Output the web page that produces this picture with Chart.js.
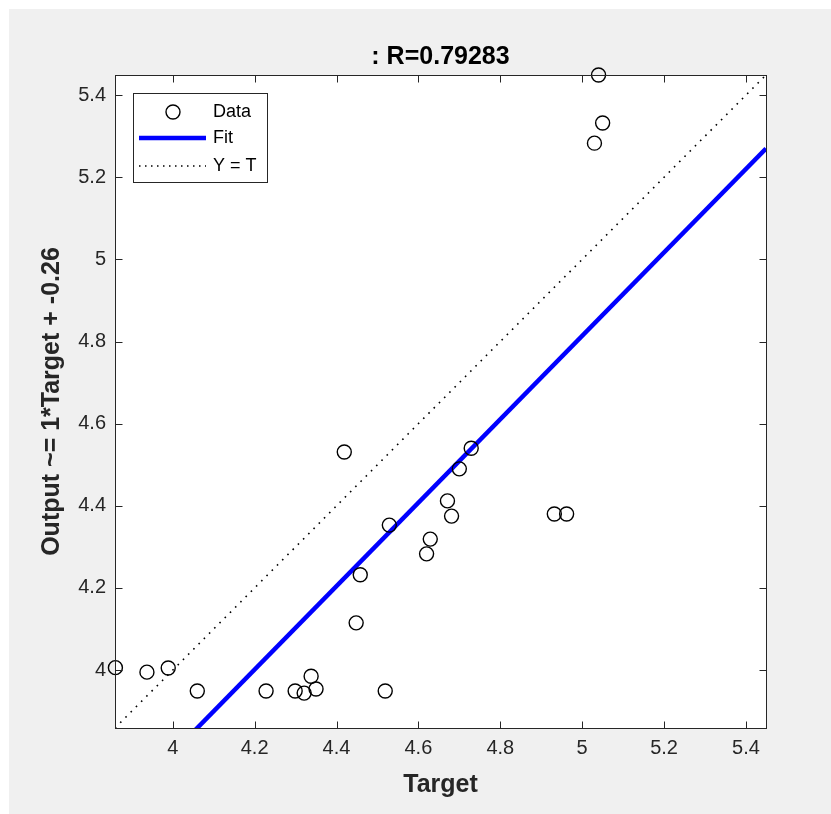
<!DOCTYPE html>
<html>
<head>
<meta charset="utf-8">
<script src="https://cdn.jsdelivr.net/npm/chart.js@4.4.1/dist/chart.umd.min.js"></script>
<style>
html,body{margin:0;padding:0;background:#fff;}
canvas{display:block;}
</style>
</head>
<body>
<canvas id="c" width="831" height="814"></canvas>
<script>
// ---- data ----
const targetValues = [3.86, 3.937, 3.989, 4.06, 4.228, 4.299, 4.321, 4.338, 4.35, 4.519,
                      4.448, 4.458, 4.419, 4.529, 4.62, 4.629, 4.671, 4.681, 4.70, 4.729,
                      4.932, 4.962, 5.03, 5.05, 5.04];
const outputValues = [4.006, 3.995, 4.005, 3.949, 3.949, 3.949, 3.944, 3.985, 3.954, 3.949,
                      4.115, 4.232, 4.531, 4.353, 4.283, 4.319, 4.412, 4.375, 4.49, 4.54,
                      4.38, 4.38, 5.283, 5.332, 5.449];
const fitX = [3.859, 5.449];
const fitY = [3.655, 5.270];
const identityX = [3.859, 5.449];
const identityY = [3.859, 5.449];
const axisMin = 3.859;
const axisMax = 5.449;
const xTickValues = [4, 4.2, 4.4, 4.6, 4.8, 5, 5.2, 5.4];
const xTickLabels = ['4', '4.2', '4.4', '4.6', '4.8', '5', '5.2', '5.4'];
const yTickValues = [4, 4.2, 4.4, 4.6, 4.8, 5, 5.2, 5.4];
const yTickLabels = ['4', '4.2', '4.4', '4.6', '4.8', '5', '5.2', '5.4'];
const titleText = ': R=0.79283';
const xAxisTitle = 'Target';
const yAxisTitle = 'Output ~= 1*Target + -0.26';
const legendLabels = ['Data', 'Fit', 'Y = T'];

const FONT = "'Liberation Sans', Arial, sans-serif";
const AX = '#262626';

const bgPlugin = {
  id: 'bg',
  beforeDraw(chart) {
    const {ctx, chartArea: a} = chart;
    ctx.save();
    ctx.fillStyle = '#ffffff';
    ctx.fillRect(0, 0, chart.width, chart.height);
    ctx.fillStyle = '#f0f0f0';
    ctx.fillRect(9, 9, chart.width - 9, chart.height - 9);
    ctx.fillStyle = '#ffffff';
    ctx.fillRect(a.left, a.top, a.right - a.left, a.bottom - a.top);
    ctx.restore();
  }
};

const framePlugin = {
  id: 'frame',
  afterDatasetsDraw(chart) {
    const {ctx, chartArea: a, scales} = chart;
    ctx.save();
    ctx.strokeStyle = AX;
    ctx.lineWidth = 1;
    const L = Math.round(a.left) + 0.5, R = Math.round(a.right) + 0.5;
    const T = Math.round(a.top) + 0.5, B = Math.round(a.bottom) + 0.5;
    ctx.strokeRect(L, T, R - L, B - T);
    const tl = 7;
    ctx.beginPath();
    scales.x.ticks.forEach(t => {
      const px = Math.round(scales.x.getPixelForValue(t.value)) + 0.5;
      ctx.moveTo(px, B); ctx.lineTo(px, B - tl);
      ctx.moveTo(px, T); ctx.lineTo(px, T + tl);
    });
    scales.y.ticks.forEach(t => {
      const py = Math.round(scales.y.getPixelForValue(t.value)) + 0.5;
      ctx.moveTo(L, py); ctx.lineTo(L + tl, py);
      ctx.moveTo(R, py); ctx.lineTo(R - tl, py);
    });
    ctx.stroke();
    ctx.restore();
  },
  afterDraw(chart) {
    const {ctx, chartArea: a} = chart;
    ctx.save();
    // title
    ctx.fillStyle = '#000';
    ctx.font = "bold 25px " + FONT;
    ctx.textAlign = 'center';
    ctx.textBaseline = 'middle';
    ctx.fillText(titleText, (a.left + a.right) / 2, 57);
    // legend
    const lx = 133.5, ly = 93.5, lw = 134, lh = 89;
    ctx.fillStyle = '#fff';
    ctx.fillRect(lx, ly, lw, lh);
    ctx.strokeStyle = AX;
    ctx.lineWidth = 1;
    ctx.strokeRect(lx, ly, lw, lh);
    const rows = [112, 138, 166];
    ctx.strokeStyle = '#000';
    ctx.lineWidth = 1.4;
    ctx.beginPath();
    ctx.arc(173, rows[0], 7, 0, Math.PI * 2);
    ctx.stroke();
    ctx.strokeStyle = '#0000ff';
    ctx.lineWidth = 4.5;
    ctx.beginPath();
    ctx.moveTo(139, rows[1]); ctx.lineTo(206, rows[1]);
    ctx.stroke();
    ctx.strokeStyle = '#000';
    ctx.lineWidth = 1.5;
    ctx.setLineDash([1.5, 4.5]);
    ctx.beginPath();
    ctx.moveTo(139, rows[2]); ctx.lineTo(206, rows[2]);
    ctx.stroke();
    ctx.setLineDash([]);
    ctx.fillStyle = '#000';
    ctx.font = "18px " + FONT;
    ctx.textAlign = 'left';
    ctx.textBaseline = 'middle';
    legendLabels.forEach((s, i) => ctx.fillText(s, 213, rows[i]));
    ctx.restore();
  }
};

const toPts = (xs, ys) => xs.map((x, i) => ({x: x, y: ys[i]}));

new Chart(document.getElementById('c'), {
  type: 'scatter',
  data: {
    datasets: [
      {
        label: 'Y = T', type: 'line', data: toPts(identityX, identityY),
        borderColor: '#000', borderWidth: 1.6, borderDash: [1.6, 5.8],
        pointRadius: 0, fill: false, order: 3
      },
      {
        label: 'Fit', type: 'line', data: toPts(fitX, fitY),
        borderColor: '#0000ff', borderWidth: 4.5, pointRadius: 0, fill: false, order: 2
      },
      {
        label: 'Data', data: toPts(targetValues, outputValues),
        pointStyle: 'circle', pointRadius: 7, pointBorderWidth: 1.4,
        borderColor: '#000', backgroundColor: 'rgba(0,0,0,0)', clip: false, order: 1
      }
    ]
  },
  options: {
    responsive: false,
    animation: false,
    devicePixelRatio: 1,
    layout: {padding: {left: 0, right: 65, top: 75, bottom: 0}},
    plugins: {legend: {display: false}, title: {display: false}, tooltip: {enabled: false}},
    scales: {
      x: {
        type: 'linear', min: axisMin, max: axisMax,
        grid: {display: false, drawTicks: false},
        border: {display: false},
        afterBuildTicks: s => { s.ticks = xTickValues.map(v => ({value: v})); },
        afterFit: s => { s.height = 86; },
        ticks: {
          autoSkip: false, maxRotation: 0, padding: 8, color: AX,
          font: {family: FONT, size: 20},
          callback: (v, i) => xTickLabels[i]
        },
        title: {
          display: true, text: xAxisTitle, color: AX,
          font: {family: FONT, size: 25, weight: 'bold'},
          padding: {top: 0, bottom: 14}
        }
      },
      y: {
        type: 'linear', min: axisMin, max: axisMax,
        grid: {display: false, drawTicks: false},
        border: {display: false},
        afterBuildTicks: s => { s.ticks = yTickValues.map(v => ({value: v})); },
        afterFit: s => { s.width = 115; },
        ticks: {
          autoSkip: false, padding: 9, color: AX,
          font: {family: FONT, size: 20},
          callback: (v, i) => yTickLabels[i]
        },
        title: {
          display: true, text: yAxisTitle, color: AX,
          font: {family: FONT, size: 25, weight: 'bold'},
          padding: {top: 37, bottom: 0}
        }
      }
    }
  },
  plugins: [bgPlugin, framePlugin]
});
</script>
</body>
</html>
